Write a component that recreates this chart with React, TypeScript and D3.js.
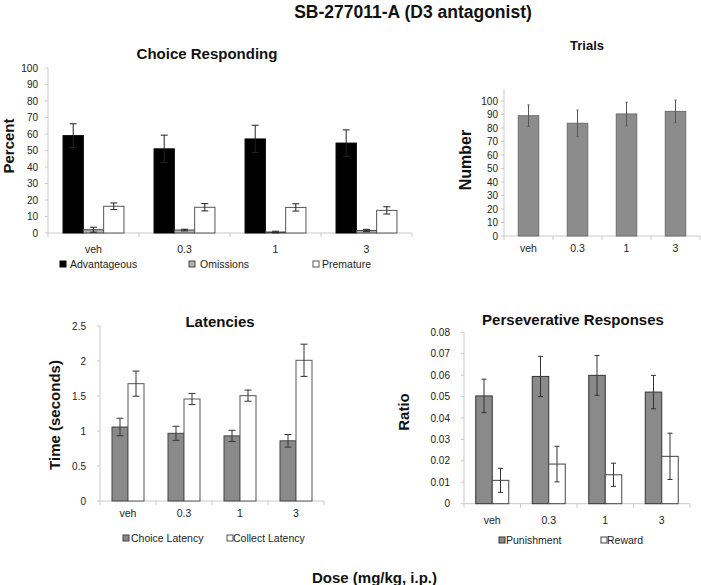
import React from "react";
import * as d3 from "d3";

const categories = ["veh", "0.3", "1", "3"];

const crSeries = ["Advantageous", "Omissions", "Premature"];
const crAdvantageous = [59, 51, 57, 54.5];
const crAdvantageousErr = [7.2, 8.3, 8.3, 8];
const crOmissions = [2, 1.8, 0.6, 1.5];
const crOmissionsErr = [1.5, 0.5, 0.5, 0.7];
const crPremature = [16.2, 15.6, 15.5, 13.7];
const crPrematureErr = [2, 2.2, 2.2, 2.2];
const crTicks = [0, 10, 20, 30, 40, 50, 60, 70, 80, 90, 100];

const trialSeries = ["Trials"];
const trials = [89.1, 83.5, 90.4, 92.3];
const trialsErr = [8, 9.8, 8.7, 8.4];
const trialTicks = [0, 10, 20, 30, 40, 50, 60, 70, 80, 90, 100];

const latSeries = ["Choice Latency", "Collect Latency"];
const choiceLatency = [1.057, 0.967, 0.93, 0.86];
const choiceLatencyErr = [0.125, 0.1, 0.08, 0.09];
const collectLatency = [1.676, 1.457, 1.505, 2.01];
const collectLatencyErr = [0.18, 0.08, 0.08, 0.23];
const latTicks = [0, 0.5, 1, 1.5, 2, 2.5];

const persSeries = ["Punishment", "Reward"];
const punishment = [0.0503, 0.0594, 0.0599, 0.0521];
const punishmentErr = [0.0078, 0.0094, 0.0093, 0.0078];
const reward = [0.0109, 0.0185, 0.0135, 0.0221];
const rewardErr = [0.0056, 0.0083, 0.0054, 0.0108];
const persTicks = [0, 0.01, 0.02, 0.03, 0.04, 0.05, 0.06, 0.07, 0.08];

const FONT = "'Liberation Sans', Arial, Helvetica, sans-serif";

type SeriesDef = {
  name: string;
  values: number[];
  errors: number[];
  fill: string;
  stroke: string;
};

type PanelProps = {
  x0: number;
  x1: number;
  yBottom: number;
  yTop: number;
  domainMax: number;
  ticks: number[];
  tickFormat: (v: number) => string;
  tickLabelGap: number;
  barWidth: number;
  series: SeriesDef[];
  title: string;
  titleX: number;
  titleY: number;
  titleSize: number;
  yLabel: string;
  yLabelX: number;
  yLabelY: number;
  yLabelSize: number;
  catLabelY: number;
  legend?: { x: number; textX: number; y: number }[];
  capWidth: number;
  errColor: string;
};

function Panel(p: PanelProps) {
  const x = d3.scaleBand<string>().domain(categories).range([p.x0, p.x1]);
  const y = d3.scaleLinear().domain([0, p.domainMax]).range([p.yBottom, p.yTop]);
  const inner = d3
    .scaleBand<string>()
    .domain(p.series.map((s) => s.name))
    .range([0, p.barWidth * p.series.length]);
  const groupW = p.barWidth * p.series.length;
  const axisColor = "#c9c9c9";
  return (
    <g>
      <text
        x={p.titleX}
        y={p.titleY}
        textAnchor="middle"
        dominantBaseline="central"
        fontFamily={FONT}
        fontWeight="bold"
        fontSize={p.titleSize}
        fill="#111"
      >
        {p.title}
      </text>
      <text
        transform={`translate(${p.yLabelX},${p.yLabelY}) rotate(-90)`}
        textAnchor="middle"
        dominantBaseline="central"
        fontFamily={FONT}
        fontWeight="bold"
        fontSize={p.yLabelSize}
        fill="#111"
      >
        {p.yLabel}
      </text>
      {/* y axis */}
      <line x1={p.x0} x2={p.x0} y1={y(p.domainMax)} y2={p.yBottom} stroke={axisColor} strokeWidth={1} />
      {p.ticks.map((t) => (
        <g key={t}>
          <line x1={p.x0 - 3} x2={p.x0} y1={y(t)} y2={y(t)} stroke={axisColor} />
          <text
            x={p.x0 - p.tickLabelGap}
            y={y(t)}
            textAnchor="end"
            dominantBaseline="central"
            fontFamily={FONT}
            fontSize={10}
            fill="#222"
          >
            {p.tickFormat(t)}
          </text>
        </g>
      ))}
      {/* x axis */}
      <line x1={p.x0} x2={p.x1} y1={p.yBottom} y2={p.yBottom} stroke={axisColor} />
      {categories.map((c, i) => (
        <line
          key={"tk" + c}
          x1={(x(c) as number) + x.bandwidth()}
          x2={(x(c) as number) + x.bandwidth()}
          y1={p.yBottom}
          y2={p.yBottom + 4}
          stroke={axisColor}
        />
      ))}
      <line x1={p.x0} x2={p.x0} y1={p.yBottom} y2={p.yBottom + 4} stroke={axisColor} />
      {categories.map((c) => (
        <text
          key={"cl" + c}
          x={(x(c) as number) + x.bandwidth() / 2}
          y={p.catLabelY}
          textAnchor="middle"
          dominantBaseline="central"
          fontFamily={FONT}
          fontSize={10.5}
          fill="#222"
        >
          {c}
        </text>
      ))}
      {/* bars */}
      {categories.map((c, i) => {
        const gx = (x(c) as number) + x.bandwidth() / 2 - groupW / 2;
        return (
          <g key={"g" + c}>
            {p.series.map((s) => {
              const bx = gx + (inner(s.name) as number);
              const v = s.values[i];
              return (
                <rect
                  key={s.name}
                  x={bx}
                  y={y(v)}
                  width={inner.bandwidth()}
                  height={p.yBottom - y(v)}
                  fill={s.fill}
                  stroke={s.stroke}
                  strokeWidth={1}
                />
              );
            })}
            {p.series.map((s) => {
              const cx = gx + (inner(s.name) as number) + inner.bandwidth() / 2;
              const v = s.values[i];
              const e = s.errors[i];
              const lo = Math.max(0, v - e);
              return (
                <g key={"e" + s.name} stroke={p.errColor} strokeWidth={1}>
                  <line x1={cx} x2={cx} y1={y(v + e)} y2={y(lo)} />
                  <line x1={cx - p.capWidth / 2} x2={cx + p.capWidth / 2} y1={y(v + e)} y2={y(v + e)} />
                  <line x1={cx - p.capWidth / 2} x2={cx + p.capWidth / 2} y1={y(lo)} y2={y(lo)} />
                </g>
              );
            })}
          </g>
        );
      })}
      {/* legend */}
      {p.legend &&
        p.series.map((s, i) => {
          const l = p.legend![i];
          return (
            <g key={"lg" + s.name}>
              <rect x={l.x} y={l.y - 3} width={6} height={6} fill={s.fill} stroke={s.stroke === "none" ? "#000" : s.stroke} strokeWidth={1} />
              <text
                x={l.textX}
                y={l.y}
                dominantBaseline="central"
                fontFamily={FONT}
                fontSize={10.5}
                fill="#222"
              >
                {s.name}
              </text>
            </g>
          );
        })}
    </g>
  );
}

export default function App() {
  const fmtInt = (v: number) => String(v);
  const fmtLat = (v: number) => String(v);
  const fmtPers = (v: number) => (v === 0 ? "0" : v.toFixed(2));
  return (
    <svg
      width={701}
      height={585}
      style={{ position: "absolute", left: 0, top: 0, background: "#fff" }}
    >
      <rect x={0} y={0} width={701} height={585} fill="#fff" />
      <text
        x={413}
        y={12}
        textAnchor="middle"
        dominantBaseline="central"
        fontFamily={FONT}
        fontWeight="bold"
        fontSize={17.5}
        fill="#111"
      >
        SB-277011-A (D3 antagonist)
      </text>

      <Panel
        x0={48}
        x1={412}
        yBottom={233}
        yTop={68}
        domainMax={100}
        ticks={crTicks}
        tickFormat={fmtInt}
        tickLabelGap={10}
        barWidth={20.3}
        series={[
          { name: crSeries[0], values: crAdvantageous, errors: crAdvantageousErr, fill: "#000", stroke: "#000" },
          { name: crSeries[1], values: crOmissions, errors: crOmissionsErr, fill: "#b3b3b3", stroke: "#444" },
          { name: crSeries[2], values: crPremature, errors: crPrematureErr, fill: "#fff", stroke: "#555" },
        ]}
        title="Choice Responding"
        titleX={207}
        titleY={53}
        titleSize={15}
        yLabel="Percent"
        yLabelX={8}
        yLabelY={146}
        yLabelSize={15}
        catLabelY={249}
        legend={[
          { x: 60, textX: 70, y: 264 },
          { x: 189, textX: 200, y: 264 },
          { x: 313, textX: 322, y: 264 },
        ]}
        capWidth={7}
        errColor="#222"
      />

      <Panel
        x0={504}
        x1={700}
        yBottom={236}
        yTop={88.85}
        domainMax={109}
        ticks={trialTicks}
        tickFormat={fmtInt}
        tickLabelGap={6}
        barWidth={20.5}
        series={[{ name: trialSeries[0], values: trials, errors: trialsErr, fill: "#8c8c8c", stroke: "#6e6e6e" }]}
        title="Trials"
        titleX={587}
        titleY={45}
        titleSize={13}
        yLabel="Number"
        yLabelX={465}
        yLabelY={160}
        yLabelSize={16}
        catLabelY={248}
        capWidth={2}
        errColor="#555"
      />

      <Panel
        x0={100}
        x1={324}
        yBottom={501}
        yTop={326}
        domainMax={2.5}
        ticks={latTicks}
        tickFormat={fmtLat}
        tickLabelGap={14}
        barWidth={16}
        series={[
          { name: latSeries[0], values: choiceLatency, errors: choiceLatencyErr, fill: "#8a8a8a", stroke: "#444" },
          { name: latSeries[1], values: collectLatency, errors: collectLatencyErr, fill: "#fff", stroke: "#555" },
        ]}
        title="Latencies"
        titleX={220}
        titleY={321}
        titleSize={15}
        yLabel="Time (seconds)"
        yLabelX={54}
        yLabelY={415}
        yLabelSize={15}
        catLabelY={513}
        legend={[
          { x: 123, textX: 131, y: 538 },
          { x: 227, textX: 233, y: 538 },
        ]}
        capWidth={7}
        errColor="#333"
      />

      <Panel
        x0={464}
        x1={690}
        yBottom={503.7}
        yTop={332.3}
        domainMax={0.08}
        ticks={persTicks}
        tickFormat={fmtPers}
        tickLabelGap={14}
        barWidth={16.5}
        series={[
          { name: persSeries[0], values: punishment, errors: punishmentErr, fill: "#8a8a8a", stroke: "#333" },
          { name: persSeries[1], values: reward, errors: rewardErr, fill: "#fff", stroke: "#444" },
        ]}
        title="Perseverative Responses"
        titleX={573}
        titleY={319}
        titleSize={15}
        yLabel="Ratio"
        yLabelX={403}
        yLabelY={412}
        yLabelSize={15}
        catLabelY={520}
        legend={[
          { x: 499, textX: 506, y: 540 },
          { x: 601, textX: 607, y: 540 },
        ]}
        capWidth={5}
        errColor="#333"
      />

      <text
        x={374.5}
        y={577}
        textAnchor="middle"
        dominantBaseline="central"
        fontFamily={FONT}
        fontWeight="bold"
        fontSize={15}
        fill="#111"
      >
        Dose (mg/kg, i.p.)
      </text>
    </svg>
  );
}
